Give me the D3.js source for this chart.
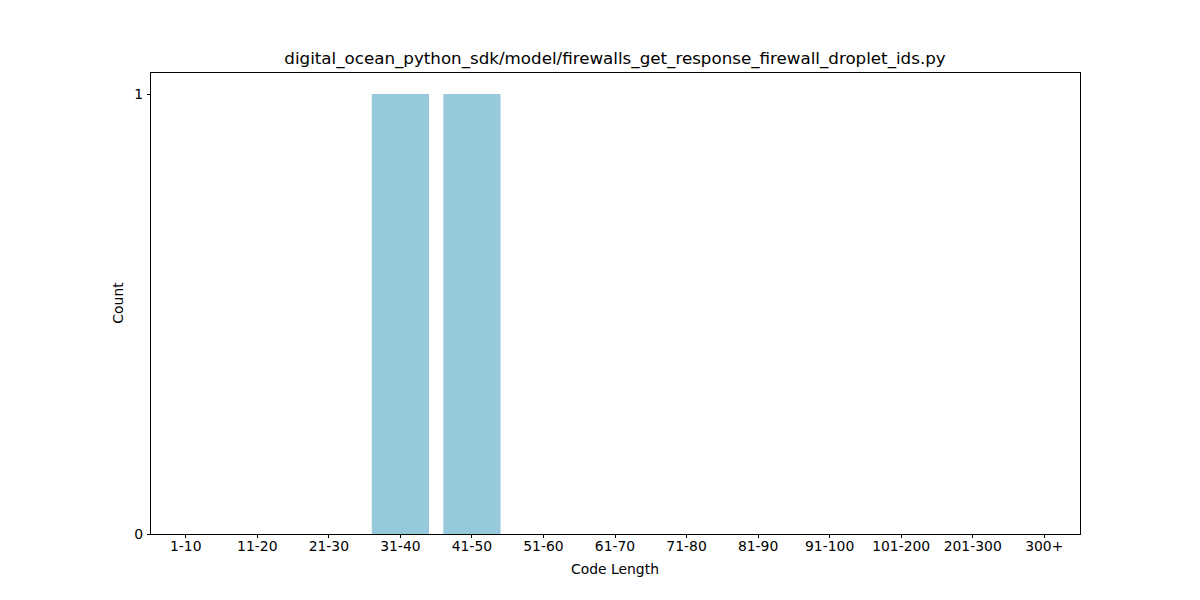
<!DOCTYPE html>
<html><head><meta charset="utf-8">
<script src="https://cdn.jsdelivr.net/npm/d3@7"></script>
<style>body{margin:0;background:#fff}svg{display:block}text{font-family:"DejaVu Sans",sans-serif;fill:#000}</style>
</head><body>
<script>
const title = "digital_ocean_python_sdk/model/firewalls_get_response_firewall_droplet_ids.py";
const categories = ["1-10","11-20","21-30","31-40","41-50","51-60","61-70","71-80","81-90","91-100","101-200","201-300","300+"];
const counts = [0,0,0,1,1,0,0,0,0,0,0,0,0];
const yTicks = [0,1];
const xLabel = "Code Length";
const yLabel = "Count";

const W=1200,H=600,L=150,R=1080,T=72,B=534;
const svg=d3.select("body").append("svg").attr("width",W).attr("height",H);
const x=d3.scaleBand().domain(categories).range([L,R]).paddingInner(0.2).paddingOuter(0.1);
const y=d3.scaleLinear().domain([0,1.05]).range([B,T]);

svg.append("g").selectAll("rect").data(categories.map((c,i)=>({c,v:counts[i]}))).join("rect")
  .attr("x",d=>x(d.c)).attr("width",x.bandwidth())
  .attr("y",d=>y(d.v)).attr("height",d=>y(0)-y(d.v)).attr("fill","#96c9dc");

const xa=svg.append("g").attr("transform",`translate(0,${B})`)
  .call(d3.axisBottom(x).tickSize(3.5).tickPadding(3.5));
const ya=svg.append("g").attr("transform",`translate(${L},0)`)
  .call(d3.axisLeft(y).tickValues(yTicks).tickFormat(d3.format("d")).tickSize(3.5).tickPadding(3.5));
[xa,ya].forEach(g=>{g.select(".domain").remove();g.selectAll("line").attr("stroke","#000").attr("stroke-width",1).attr("shape-rendering","crispEdges");
  g.selectAll("text").attr("font-size","13.9px").attr("font-family","DejaVu Sans");});

svg.append("rect").attr("x",L).attr("y",T).attr("width",R-L).attr("height",B-T)
  .attr("fill","none").attr("stroke","#000").attr("stroke-width",1).attr("shape-rendering","crispEdges");

svg.append("text").attr("x",(L+R)/2).attr("y",T-8).attr("text-anchor","middle").attr("font-size","16.7px").text(title);
svg.append("text").attr("x",(L+R)/2).attr("y",574).attr("text-anchor","middle").attr("font-size","13.9px").text(xLabel);
svg.append("text").attr("transform",`translate(123,${(T+B)/2}) rotate(-90)`).attr("text-anchor","middle").attr("font-size","13.9px").text(yLabel);
</script>
</body></html>
